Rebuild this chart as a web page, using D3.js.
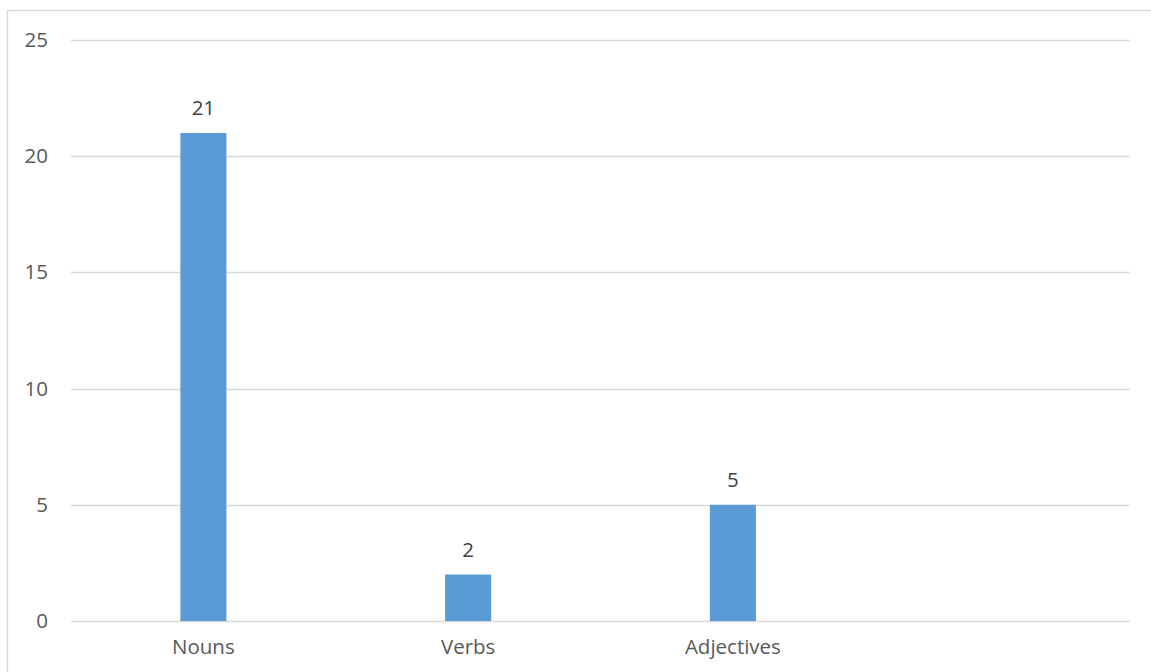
<!DOCTYPE html>
<html><head><meta charset="utf-8">
<script src="https://cdn.jsdelivr.net/npm/d3@7"></script>
<style>body{margin:0;background:#fff;}svg{display:block;}</style>
</head><body>
<svg id="c" width="1151" height="672"></svg>
<script>
const categories = ["Nouns", "Verbs", "Adjectives", ""];
const values = [21, 2, 5, null];
const yTicks = [0, 5, 10, 15, 20, 25];

const svg = d3.select("#c");
const font = "'Open Sans', 'Noto Sans', sans-serif";
const fs = "20.5px";
svg.append("rect").attr("x", 7.5).attr("y", 10.5).attr("width", 1160).attr("height", 700)
  .attr("fill", "#fff").attr("stroke", "#d9d9d9").attr("stroke-width", 1.3);

const x = d3.scaleBand().domain(categories).range([71, 1130]).paddingInner(0.826).paddingOuter(0.413);
const y = d3.scaleLinear().domain([0, 25]).range([621, 40]);

const grid = svg.append("g");
grid.selectAll("line").data(yTicks).join("line")
  .attr("x1", 71).attr("x2", 1130)
  .attr("y1", d => Math.round(y(d)) + 0.5).attr("y2", d => Math.round(y(d)) + 0.5)
  .attr("stroke", "#d9d9d9").attr("stroke-width", 1.3);

const yAxis = svg.append("g").attr("transform", "translate(48,0)")
  .call(d3.axisLeft(y).tickValues(yTicks).tickSize(0).tickPadding(0));
yAxis.select(".domain").remove();
yAxis.selectAll("text").attr("fill", "#595959").style("font-family", font).style("font-size", fs);

const xAxis = svg.append("g").attr("transform", "translate(0,621)")
  .call(d3.axisBottom(x).tickSize(0).tickPadding(18));
xAxis.select(".domain").remove();
xAxis.selectAll("text").attr("fill", "#595959").style("font-family", font).style("font-size", fs);

const data = categories.map((c, i) => ({c, v: values[i]})).filter(d => d.v != null);
svg.append("g").selectAll("rect").data(data).join("rect")
  .attr("x", d => x(d.c)).attr("width", x.bandwidth())
  .attr("y", d => y(d.v)).attr("height", d => y(0) - y(d.v))
  .attr("fill", "#5b9bd5");

svg.append("g").selectAll("text").data(data).join("text")
  .attr("x", d => x(d.c) + x.bandwidth() / 2).attr("y", d => y(d.v) - 18)
  .attr("text-anchor", "middle").attr("fill", "#404040")
  .style("font-family", font).style("font-size", fs)
  .text(d => d.v);
</script>
</body></html>
